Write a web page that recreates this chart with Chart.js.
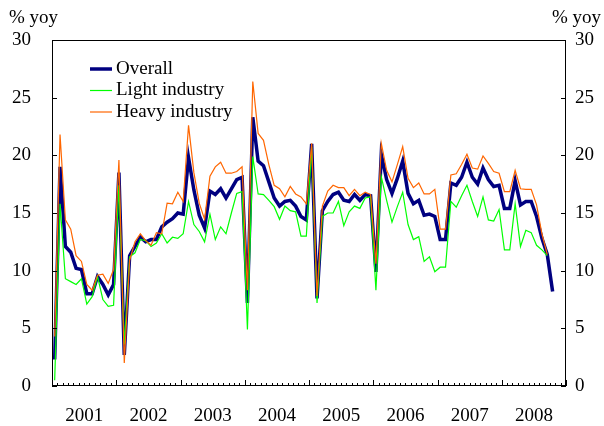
<!DOCTYPE html>
<html>
<head>
<meta charset="utf-8">
<script src="https://cdn.jsdelivr.net/npm/chart.js@4.4.0/dist/chart.umd.min.js"></script>
<style>
  body { margin: 0; background: #fff; }
  canvas { display: block; }
</style>
</head>
<body>
<canvas id="chart" width="604" height="426"></canvas>
<script>
// monthly yoy growth, Jan 2001 onwards
const years = ['2001', '2002', '2003', '2004', '2005', '2006', '2007', '2008'];
const overall = [
    2.3, 19.0, 12.1, 11.6, 10.2, 10.1, 8.0, 8.0, 9.5, 8.8, 7.9, 8.8,
    18.5, 2.7, 11.3, 12.1, 12.9, 12.5, 12.7, 12.7, 13.8, 14.2, 14.5, 15.0,
    14.9, 19.8, 17.0, 14.8, 13.7, 16.9, 16.6, 17.1, 16.3, 17.1, 17.9, 18.1,
    7.2, 23.3, 19.5, 19.1, 17.7, 16.3, 15.6, 16.0, 16.1, 15.6, 14.7, 14.4,
    21.0, 7.6, 15.2, 16.0, 16.6, 16.8, 16.1, 16.0, 16.6, 16.1, 16.6, 16.5,
    9.9, 20.1, 17.9, 16.7, 18.0, 19.5, 16.7, 15.8, 16.1, 14.8, 14.9, 14.7,
    12.7, 12.7, 17.6, 17.4, 18.1, 19.4, 18.1, 17.5, 18.9, 17.9, 17.3, 17.4,
    15.4, 15.4, 17.8, 15.7, 16.0, 16.0, 14.7, 12.8, 11.4, 8.2
];
const light = [
    0.5, 15.8, 9.3, 9.05, 8.8, 9.3, 7.1, 7.75, 9.5, 7.5, 6.9, 7.0,
    17.4, 3.6, 11.2, 11.55, 12.7, 12.6, 12.1, 12.4, 13.2, 12.4, 12.9, 12.8,
    13.2, 16.0, 14.0, 13.4, 12.5, 14.9, 12.7, 13.8, 13.2, 15.0, 16.7, 16.85,
    4.9, 19.9, 16.65, 16.6, 16.1, 15.55, 14.45, 15.6, 15.2, 15.1, 13.0, 13.0,
    20.75, 7.2, 14.7, 15.0, 15.0, 16.0, 13.9, 15.1, 15.6, 15.4, 16.3, 16.4,
    8.3, 18.15, 16.1, 14.2, 15.55, 16.8, 14.0, 12.7, 12.95, 10.8, 11.2, 9.9,
    10.3, 10.3, 16.0, 15.5, 16.5, 17.4, 16.0, 14.7, 16.4, 14.4, 14.3, 15.3,
    11.8, 11.8, 15.8, 12.1, 13.5, 13.3, 12.2, 11.8, 11.3
];
const heavy = [
    4.3, 21.8, 14.4, 13.6, 11.3, 10.8, 8.8, 8.3, 9.6, 9.7, 8.9, 10.1,
    19.6, 2.0, 10.9, 12.5, 13.2, 12.6, 12.2, 13.3, 13.2, 15.85, 15.8, 16.8,
    16.0, 22.6, 18.5, 15.85, 14.45, 18.2, 19.0, 19.4, 18.45, 18.45, 18.6, 19.0,
    8.3, 26.4, 21.9, 21.3, 19.2, 17.4, 17.1, 16.4, 17.3, 16.65, 16.4, 15.8,
    21.05, 7.8, 15.6, 16.9, 17.4, 17.2, 17.2, 16.5, 17.05, 16.5, 16.8, 16.6,
    10.6, 21.05, 18.7, 17.7, 19.2, 20.75, 18.0, 17.2, 17.6, 16.65, 16.65, 17.05,
    13.6, 13.6, 18.3, 18.4, 19.2, 20.1, 18.9, 18.8, 19.95, 19.3, 18.6, 18.45,
    16.85, 16.85, 18.7, 17.1, 17.05, 17.05, 15.7, 13.2, 11.4
];
const seriesNames = ['Overall', 'Light industry', 'Heavy industry'];
const yTicks = [0, 5, 10, 15, 20, 25, 30];
const axisTitle = '% yoy';

const FONT = "'Liberation Serif', 'Times New Roman', serif";
const months = years.length * 12;

function toPoints(arr) {
    return arr.map((v, i) => ({ x: i, y: v }));
}

// frame, inward ticks, unit labels and the legend box
const extras = {
    id: 'extras',
    afterDraw(chart) {
        const { ctx, chartArea: a, scales } = chart;
        ctx.save();
        ctx.strokeStyle = '#000';
        ctx.lineWidth = 1;
        ctx.strokeRect(a.left + 0.5, a.top + 0.5, a.right - a.left - 1, a.bottom - a.top - 1);

        ctx.beginPath();
        for (let m = 0; m <= months; m++) {
            const px = Math.round(scales.x.getPixelForValue(m - 0.5)) + 0.5;
            const len = m % 12 === 0 ? 6 : 3;
            ctx.moveTo(px, a.bottom);
            ctx.lineTo(px, a.bottom - len);
        }
        yTicks.forEach(v => {
            const py = Math.round(scales.y.getPixelForValue(v)) + 0.5;
            ctx.moveTo(a.left, py);
            ctx.lineTo(a.left + 5, py);
            ctx.moveTo(a.right, py);
            ctx.lineTo(a.right - 5, py);
        });
        ctx.stroke();

        ctx.fillStyle = '#000';
        ctx.font = '19px ' + FONT;
        ctx.textBaseline = 'middle';
        ctx.textAlign = 'left';
        ctx.fillText(axisTitle, 9, 18);
        ctx.textAlign = 'right';
        ctx.fillText(axisTitle, 601, 18);

        // legend
        ctx.textAlign = 'left';
        chart.data.datasets.forEach((ds, k) => {
            const y = 69 + k * 21.5;
            ctx.beginPath();
            ctx.strokeStyle = ds.borderColor;
            ctx.lineWidth = ds.borderWidth;
            ctx.moveTo(90, y);
            ctx.lineTo(112, y);
            ctx.stroke();
            ctx.fillText(ds.label, 116, y);
        });
        ctx.restore();
    }
};

const yAxis = (pos, pad, width) => ({
    position: pos,
    min: 0,
    max: 30,
    afterBuildTicks: s => { s.ticks = yTicks.map(v => ({ value: v })); },
    afterFit: s => { s.width = width; },
    grid: { display: false, drawTicks: false },
    border: { display: false },
    ticks: { padding: pad, color: '#000', font: { family: FONT, size: 19 } }
});

new Chart(document.getElementById('chart'), {
    type: 'line',
    data: {
        datasets: [
            {
                label: seriesNames[0],
                data: toPoints(overall),
                borderColor: '#000080',
                borderWidth: 3.5,
                order: 3
            },
            {
                label: seriesNames[1],
                data: toPoints(light),
                borderColor: '#00ff00',
                borderWidth: 1.2,
                order: 2
            },
            {
                label: seriesNames[2],
                data: toPoints(heavy),
                borderColor: '#ff6600',
                borderWidth: 1.2,
                order: 1
            }
        ]
    },
    options: {
        responsive: false,
        animation: false,
        elements: { point: { radius: 0 }, line: { tension: 0 } },
        layout: { padding: { top: 40, left: 0, right: 0, bottom: 0 } },
        plugins: {
            legend: { display: false },
            tooltip: { enabled: false }
        },
        scales: {
            x: {
                type: 'linear',
                min: -0.5,
                max: months - 0.5,
                afterBuildTicks: s => { s.ticks = years.map((y, i) => ({ value: i * 12 + 5.5 })); },
                afterFit: s => { s.height = 40; },
                grid: { display: false, drawTicks: false },
                border: { display: false },
                ticks: {
                    padding: 19,
                    autoSkip: false,
                    maxRotation: 0,
                    color: '#000',
                    font: { family: FONT, size: 19 },
                    callback: (v, i) => years[i]
                }
            },
            y: yAxis('left', 21, 52),
            y1: yAxis('right', 9, 38)
        }
    },
    plugins: [extras]
});
</script>
</body>
</html>
